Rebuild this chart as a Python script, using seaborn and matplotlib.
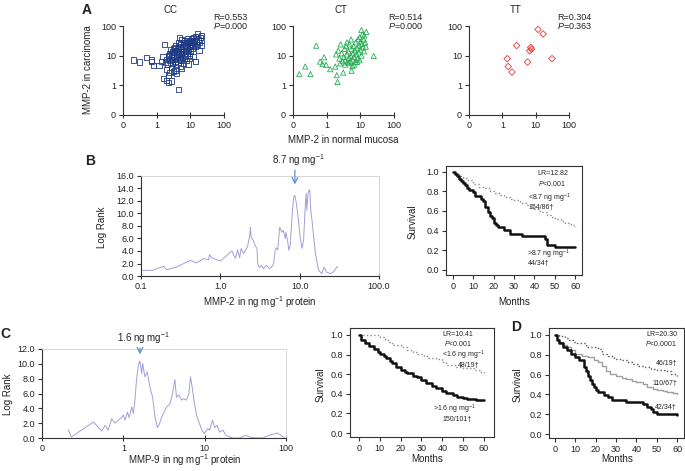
import matplotlib
matplotlib.use('Agg')
import matplotlib.pyplot as plt
import seaborn as sns
import pandas as pd
from matplotlib.ticker import NullLocator, FixedLocator, FixedFormatter

# ---- panel A: MMP-2 normal mucosa vs carcinoma, by genotype ----
cc_normal = [0.21, 0.31, 0.5, 0.7, 0.72, 0.82, 1.18, 1.4, 1.55, 1.75,
             1.6, 1.95, 2.2, 2.75, 2.2, 2.5, 3.1, 3.9, 5.5, 4.5, 2.0, 2.8, 3.5,
             1.8, 2.0, 2.1, 2.3, 2.4, 2.5, 2.6, 2.7, 2.8, 3.0, 3.0, 3.2, 3.3, 3.4, 3.5,
             3.6, 3.8, 3.9, 4.0, 4.1, 4.2, 4.4, 4.5, 4.6, 4.8, 4.9, 5.0, 5.1, 5.3, 5.5,
             5.6, 5.8, 6.0, 6.1, 6.3, 6.5, 6.7, 6.9, 7.0, 7.2, 7.4, 7.6, 7.8, 8.0, 8.2,
             8.4, 8.7, 9.0, 9.2, 9.5, 9.8, 10, 10.3, 10.6, 11, 11.3, 11.7, 12, 12.5, 13,
             13.5, 14, 14, 14.5, 15, 16, 16, 17, 18, 19, 20, 21, 22, 22, 2.2, 2.9, 3.7,
             4.3, 5.2, 6.4, 7.5, 8.5, 9.5, 12, 3.1, 4.7, 5.0]
cc_tumour = [7.1, 6.1, 8.8, 7.1, 6.5, 4.8, 4.8, 6.5, 9.2, 24,
             1.7, 1.5, 1.25, 1.4, 2.2, 2.7, 2.9, 2.5, 3.7, 0.73, 3.5, 4.0, 3.2,
             6.0, 7.5, 5.2, 9.5, 12, 6.8, 16, 8.5, 11, 14, 7.2, 9.8, 19, 12.5, 6.2,
             22, 15, 10.5, 8.2, 13, 17, 28, 11, 20, 7.5, 14, 25, 9.5, 16, 36,
             12, 21, 8.8, 27, 14, 18, 11, 32, 23, 9.5, 15, 28, 19, 12, 37,
             25, 16, 30, 21, 10, 27, 14, 33, 24, 38, 18, 29, 22, 42, 26,
             33, 6.5, 20, 45, 30, 55, 24, 36, 15, 28, 40, 33, 22, 48, 10, 5.5, 5.0,
             6.0, 6.8, 5.5, 7.0, 5.2, 8.0, 9.5, 17, 40, 4.5]

ct_normal = [0.154, 0.23, 0.33, 0.49, 0.64, 0.84, 0.75, 0.96, 1.27, 1.8, 2.0, 2.1,
             3.1, 5.5, 5.8, 25, 10.8, 15, 13,
             1.9, 2.2, 2.4, 2.6, 2.8, 3.0, 3.2, 3.4, 3.6, 3.8, 4.0, 4.2, 4.4, 4.6,
             4.8, 5.0, 5.2, 5.5, 5.8, 6.0, 6.3, 6.5, 6.8, 7.0, 7.3, 7.6, 8.0, 8.3,
             8.6, 9.0, 9.3, 9.6, 10, 10.4, 10.8, 11.2, 11.6, 12, 12.5, 13, 14, 14.5,
             2.5, 3.5, 4.5, 6.5, 8.0, 9.5, 5.3, 4.0]
ct_tumour = [2.4, 4.3, 2.4, 21.7, 6.3, 8.8, 5.2, 4.9, 3.5, 4.3, 2.2, 1.3,
             2.7, 3.1, 4.5, 9.7, 73, 63, 48,
             11, 15, 8, 24, 12, 6.5, 9, 17, 7, 21, 11, 6, 14, 8.5,
             24, 6.5, 10, 17, 7.5, 12, 21, 9, 15, 6, 28, 11, 18, 8,
             36, 13, 22, 42, 16, 30, 10, 25, 52, 19, 35, 14, 28, 20,
             5.5, 5.0, 5.8, 5.0, 6.2, 7.0, 35, 28]

tt_normal = [1.40, 1.5, 1.94, 2.68, 5.7, 6.6, 7.1, 7.5, 11.8, 16.7, 30.9]
tt_tumour = [7.9, 4.3, 2.8, 22, 6.1, 14.7, 19.0, 16.5, 77, 54, 7.9]

# ---- panel B: log rank by MMP-2 cut-off ----
mmp2_cut = [0.103, 0.138, 0.193, 0.21, 0.28, 0.42, 0.5, 0.62, 0.71, 0.73, 0.78, 1.0,
            1.40, 1.55, 1.65, 1.75, 1.83, 1.97, 2.2, 2.35, 2.4, 2.44, 2.6, 2.74, 2.9,
            2.95, 3.1, 3.3, 3.5, 3.8, 4.2, 4.5, 4.7, 4.9, 5.1, 5.3, 5.6, 5.95, 6.2,
            6.6, 6.7, 7.1, 7.3, 7.6, 8.0, 8.4, 8.7, 9.1, 9.7, 10.2, 10.7, 11.2, 11.8,
            12.1, 12.3, 12.8, 13.4, 13.8, 14.3, 15.8, 17.3, 19.0, 20.3, 21.7, 24.3,
            26.5, 30.0]
mmp2_lr = [0.9, 0.9, 1.55, 1.0, 1.44, 2.5, 2.1, 2.8, 2.6, 3.4, 2.9, 2.4,
           4.0, 2.8, 4.2, 2.9, 4.4, 3.6, 4.7, 6.5, 7.8, 6.2, 5.7, 4.9, 4.4,
           2.0, 1.33, 1.7, 1.17, 1.7, 1.17, 1.55, 2.0, 4.1, 4.5, 4.2, 7.8, 7.0, 7.3,
           6.0, 7.0, 5.4, 4.1, 4.9, 9.4, 12.6, 12.9, 11.6, 8.6, 6.0, 4.4, 5.7, 11.6,
           13.2, 10.5, 13.4, 13.8, 10.5, 8.9, 3.6, 0.9, 0.37, 1.44, 0.64, 0.37,
           0.64, 1.55]

b_hi_t = [0, 1, 2, 3, 4, 5, 6, 7, 8, 10, 11, 14, 15, 16, 17, 18, 19, 20, 21, 22, 25,
          28, 34, 45, 46, 50, 60]
b_hi_s = [1.0, 0.977, 0.955, 0.932, 0.909, 0.886, 0.864, 0.84, 0.818, 0.795, 0.75,
          0.727, 0.70, 0.636, 0.591, 0.545, 0.523, 0.477, 0.455, 0.432, 0.409, 0.364,
          0.341, 0.318, 0.25, 0.227, 0.227]
b_lo_t = [0, 1, 3, 5, 7, 10, 13, 15, 18, 20, 23, 25, 28, 30, 33, 36, 38, 40, 43, 46,
          48, 50, 53, 55, 58, 60]
b_lo_s = [1.0, 0.98, 0.96, 0.94, 0.92, 0.88, 0.85, 0.83, 0.80, 0.78, 0.76, 0.745,
          0.72, 0.71, 0.68, 0.66, 0.64, 0.62, 0.59, 0.56, 0.54, 0.52, 0.50, 0.48,
          0.46, 0.44]

# ---- panel C: log rank by MMP-9 cut-off ----
mmp9_cut = [0.21, 0.23, 0.43, 0.54, 0.6, 0.65, 0.72, 0.79, 0.87, 0.95, 1.0, 1.05,
            1.12, 1.18, 1.27, 1.33, 1.39, 1.45, 1.53, 1.6, 1.68, 1.73, 1.84, 1.97,
            2.12, 2.29, 2.45, 2.62, 2.78, 2.97, 3.17, 3.41, 3.75, 4.03, 4.3, 4.5,
            4.85, 5.2, 5.5, 5.96, 6.4, 6.7, 7.0, 7.5, 8.0, 8.6, 9.3, 9.9, 10.9, 11.5,
            12.5, 13.3, 14.2, 15.2, 16.8, 18.3, 20.1, 22, 26.5, 32, 37, 51, 62, 78, 95]
mmp9_lr = [1.13, 0.14, 2.17, 0.95, 1.7, 1.04, 2.6, 2.0, 2.4, 2.75, 3.1, 2.4,
           3.5, 2.75, 4.2, 3.3, 5.1, 7.8, 9.8, 10.4, 8.7, 10.06, 8.25, 8.9,
           6.9, 5.5, 2.84, 1.4, 1.9, 2.84, 3.5, 4.2, 4.6, 6.0, 7.9, 5.5,
           5.8, 5.1, 5.3, 5.1, 6.0, 8.25, 6.9, 4.6, 3.0, 2.0, 1.0, 0.6, 1.3, 1.04,
           2.4, 1.4, 1.7, 0.8, 1.04, 0.36, 0.14, 0.0, 0.0, 0.36, 0.05, 0.0, 0.36, 0.68, 0.05]

c_hi_t = [0, 1, 3, 5, 7, 9, 10, 12, 13, 15, 16, 18, 20, 22, 23, 26, 28, 30, 32, 35,
          37, 40, 42, 45, 47, 50, 52, 56, 60]
c_hi_s = [1.0, 0.95, 0.92, 0.89, 0.855, 0.83, 0.81, 0.78, 0.76, 0.73, 0.71, 0.67,
          0.64, 0.62, 0.61, 0.58, 0.57, 0.54, 0.51, 0.48, 0.46, 0.43, 0.41, 0.39,
          0.37, 0.36, 0.35, 0.34, 0.34]
c_lo_t = [0, 10, 12, 14, 16, 20, 23, 26, 28, 31, 33, 37, 40, 42, 46, 50, 55, 58, 60]
c_lo_s = [1.0, 0.98, 0.96, 0.93, 0.90, 0.88, 0.85, 0.83, 0.81, 0.78, 0.76, 0.75,
          0.72, 0.69, 0.67, 0.66, 0.64, 0.62, 0.61]

# ---- panel D: three groups ----
d_top_t = [0, 2, 5, 7, 9, 11, 15, 21, 23, 26, 29, 33, 36, 38, 41, 43, 47, 50, 55, 57, 60]
d_top_s = [1.0, 0.99, 0.97, 0.95, 0.93, 0.915, 0.88, 0.86, 0.81, 0.79, 0.76, 0.75,
           0.73, 0.71, 0.69, 0.68, 0.66, 0.65, 0.64, 0.61, 0.59]
d_mid_t = [0, 1, 2, 4, 6, 8, 10, 13, 16, 19, 21, 23, 25, 27, 30, 33, 35, 38, 40, 43,
           45, 48, 50, 53, 55, 58, 60]
d_mid_s = [1.0, 0.96, 0.93, 0.90, 0.88, 0.85, 0.81, 0.79, 0.78, 0.75, 0.73, 0.69,
           0.64, 0.61, 0.59, 0.57, 0.56, 0.54, 0.525, 0.50, 0.47, 0.45, 0.44, 0.43,
           0.42, 0.41, 0.40]
d_low_t = [0, 1, 2, 4, 6, 8, 10, 12, 14, 15, 16, 17, 18, 19, 20, 21, 24, 26, 28, 35,
           43, 45, 47, 48, 50, 60]
d_low_s = [1.0, 0.95, 0.915, 0.88, 0.85, 0.81, 0.78, 0.75, 0.68, 0.64, 0.59, 0.55,
           0.50, 0.47, 0.44, 0.42, 0.39, 0.37, 0.34, 0.32, 0.305, 0.27, 0.25, 0.22,
           0.20, 0.19]

W, H = 685, 471


def box(x0, y0, x1, y1):
    return [x0 / W, 1 - y1 / H, (x1 - x0) / W, (y1 - y0) / H]


def ftext(x, y, s, **kw):
    kw.setdefault('fontsize', 7)
    kw.setdefault('va', 'center')
    kw.setdefault('color', '#222222')
    fig.text(x / W, 1 - y / H, s, **kw)


sns.set_style('ticks')
plt.rcParams['font.family'] = ['Liberation Sans', 'DejaVu Sans']
plt.rcParams['mathtext.fontset'] = 'custom'
plt.rcParams['mathtext.rm'] = 'Liberation Sans'
plt.rcParams['mathtext.it'] = 'Liberation Sans:italic'
plt.rcParams['axes.edgecolor'] = '#333333'
plt.rcParams['axes.linewidth'] = 0.8
plt.rcParams['xtick.color'] = '#333333'
plt.rcParams['ytick.color'] = '#333333'
plt.rcParams['xtick.labelcolor'] = '#222222'
plt.rcParams['ytick.labelcolor'] = '#222222'
plt.rcParams['xtick.labelsize'] = 6.5
plt.rcParams['ytick.labelsize'] = 6.5
plt.rcParams['xtick.major.size'] = 3
plt.rcParams['ytick.major.size'] = 3
plt.rcParams['xtick.major.pad'] = 2
plt.rcParams['ytick.major.pad'] = 2

fig = plt.figure(figsize=(6.85, 4.71), dpi=100)


def log_axis(ax, which, ticks, labels):
    axis = ax.xaxis if which == 'x' else ax.yaxis
    axis.set_major_locator(FixedLocator(ticks))
    axis.set_major_formatter(FixedFormatter(labels))
    axis.set_minor_locator(NullLocator())


# panel A
panels_a = [
    ('CC', cc_normal, cc_tumour, 's', '#1e3a85', (123, 224), 'R=0.553', '0.000', 213),
    ('CT', ct_normal, ct_tumour, '^', '#27ad55', (293, 394), 'R=0.514', '0.000', 388),
    ('TT', tt_normal, tt_tumour, 'D', '#e23b3b', (469, 569), 'R=0.304', '0.363', 557),
]
for name, xs, ys, mk, col, (x0, x1), rtxt, ptxt, tx in panels_a:
    ax = fig.add_axes(box(x0, 26, x1, 115))
    df = pd.DataFrame({'normal': xs, 'carcinoma': ys})
    sns.scatterplot(data=df, x='normal', y='carcinoma', marker=mk,
                    s=14 if mk != 'D' else 11, facecolors='none', edgecolor=col,
                    linewidth=0.6, ax=ax)
    ax.set_xscale('log')
    ax.set_yscale('log')
    ax.set_xlim(0.1, 100)
    ax.set_ylim(0.1, 100)
    log_axis(ax, 'x', [0.1, 1, 10, 100], ['0', '1', '10', '100'])
    log_axis(ax, 'y', [0.1, 1, 10, 100], ['0', '1', '10', '100'])
    ax.tick_params(axis='x', direction='inout', length=4)
    sns.despine(ax=ax)
    ax.set_xlabel('')
    ax.set_ylabel('')
    ftext((x0 + x1) / 2 - 3, 10, name, ha='center', fontsize=7)
    ftext(tx, 17, rtxt, fontsize=6.5)
    ftext(tx, 26, r'$\it{P}$=' + ptxt, fontsize=6.5)

ftext(82, 10, 'A', fontweight='bold', fontsize=10)
ftext(88, 70, 'MMP-2 in carcinoma', rotation=90, ha='center')
ftext(343, 140, 'MMP-2 in normal mucosa', ha='center')


def logrank_axes(rect, xs, ys, ymax, xlabels):
    ax = fig.add_axes(rect)
    sns.lineplot(x=xs, y=ys, color='#a0a0d8', linewidth=0.7, estimator=None,
                 sort=False, ax=ax)
    ax.set_xscale('log')
    ax.set_xlim(0.1, 100)
    ax.set_ylim(0, ymax)
    log_axis(ax, 'x', [0.1, 1, 10, 100], xlabels)
    ax.set_yticks([v * 2.0 for v in range(int(ymax / 2) + 1)])
    ax.set_yticklabels(['%.1f' % (v * 2.0) for v in range(int(ymax / 2) + 1)])
    ax.spines['top'].set_color('#d0d0d0')
    ax.spines['right'].set_color('#d0d0d0')
    ax.spines['top'].set_linewidth(0.6)
    ax.spines['right'].set_linewidth(0.6)
    ax.tick_params(axis='x', direction='inout', length=4)
    return ax


def km_axes(rect, xlim, ylim, curves):
    ax = fig.add_axes(rect)
    for t, s, col, ls, lw in curves:
        sns.lineplot(x=t, y=s, color=col, linestyle=ls, linewidth=lw,
                     drawstyle='steps-post', estimator=None, ax=ax)
    ax.set_xlim(*xlim)
    ax.set_ylim(*ylim)
    ax.set_xticks(range(0, 61, 10))
    ax.set_yticks([0, 0.2, 0.4, 0.6, 0.8, 1.0])
    ax.set_yticklabels(['0.0', '0.2', '0.4', '0.6', '0.8', '1.0'])
    ax.set_xlabel('')
    ax.set_ylabel('')
    return ax


# panel B
ax = logrank_axes(box(141, 176, 379, 276), mmp2_cut, mmp2_lr, 16,
                  ['0.1', '1.0', '10.0', '100.0'])
ax.annotate('', xy=(8.7, 14.2), xytext=(8.7, 17.4),
            arrowprops=dict(arrowstyle='->', color='#5b8fd0', lw=0.9),
            annotation_clip=False)
ftext(298, 160, '8.7 ng mg$^{-1}$', ha='center')
ftext(85, 161, 'B', fontweight='bold', fontsize=10)
ftext(102, 227, 'Log Rank', rotation=90, ha='center')
ftext(260, 302, 'MMP-2 in ng mg$^{-1}$ protein', ha='center')

km_axes(box(446, 166, 582, 275), (-3.4, 63.4), (-0.055, 1.06),
        [(b_lo_t, b_lo_s, '#8a8a8a', ':', 1.0),
         (b_hi_t, b_hi_s, '#111111', '-', 1.8)])
ftext(413, 222, 'Survival', rotation=90, ha='center')
ftext(514, 302, 'Months', ha='center')
ftext(553, 174, 'LR=12.82', ha='center', fontsize=5)
ftext(552, 183, r'$\it{P}$<0.001', ha='center', fontsize=5)
ftext(528, 198, '<8.7 ng mg$^{-1}$', fontsize=5)
ftext(528, 208, '154/86†', fontsize=5)
ftext(527, 254, '>8.7 ng mg$^{-1}$', fontsize=5)
ftext(528, 264, '44/34†', fontsize=5)

# panel C
ax = logrank_axes(box(42, 349, 286, 438), mmp9_cut, mmp9_lr, 12,
                  ['0', '1', '10', '100'])
ax.annotate('', xy=(1.6, 10.9), xytext=(1.6, 12.5),
            arrowprops=dict(arrowstyle='->', color='#5b8fd0', lw=0.9),
            annotation_clip=False)
ftext(143, 338, '1.6 ng mg$^{-1}$', ha='center')
ftext(5, 334, 'C', fontweight='bold', fontsize=10, ha='center')
ftext(8, 394, 'Log Rank', rotation=90, ha='center')
ftext(185, 460, 'MMP-9 in ng mg$^{-1}$ protein', ha='center')

km_axes(box(350, 328, 494, 437), (-4.3, 64.8), (-0.04, 1.07),
        [(c_lo_t, c_lo_s, '#8a8a8a', ':', 1.0),
         (c_hi_t, c_hi_s, '#111111', '-', 1.8)])
ftext(321, 385, 'Survival', rotation=90, ha='center')
ftext(427, 459, 'Months', ha='center')
ftext(458, 335, 'LR=10.41', ha='center', fontsize=5)
ftext(458, 343, r'$\it{P}$<0.001', ha='center', fontsize=5)
ftext(442, 355, '<1.6 ng mg$^{-1}$', fontsize=5)
ftext(458, 365, '48/19†', fontsize=5)
ftext(433, 409, '>1.6 ng mg$^{-1}$', fontsize=5)
ftext(442, 419, '150/101†', fontsize=5)

# panel D
km_axes(box(549, 328, 684, 438), (-3, 63.4), (-0.04, 1.07),
        [(d_top_t, d_top_s, '#555555', ':', 1.0),
         (d_mid_t, d_mid_s, '#a0a0a0', '-', 1.0),
         (d_low_t, d_low_s, '#111111', '-', 1.8)])
ftext(516, 327, 'D', fontweight='bold', fontsize=10, ha='center')
ftext(518, 385, 'Survival', rotation=90, ha='center')
ftext(617, 459, 'Months', ha='center')
ftext(677, 335, 'LR=20.30', ha='right', fontsize=5)
ftext(677, 343, r'$\it{P}$<0.0001', ha='right', fontsize=5)
ftext(677, 364, '46/19†', ha='right', fontsize=5)
ftext(677, 383, '110/67†', ha='right', fontsize=5)
ftext(677, 407, '42/34†', ha='right', fontsize=5)

fig.savefig('out.png', dpi=100)
